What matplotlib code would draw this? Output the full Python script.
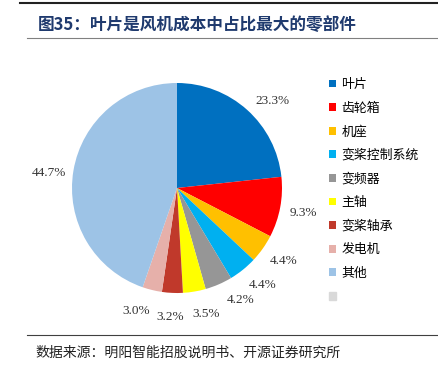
import matplotlib
matplotlib.use("Agg")
import numpy as np
import matplotlib.pyplot as plt
from matplotlib.patches import Patch
from matplotlib.lines import Line2D

plt.rcParams['font.family'] = ['Noto Sans CJK SC', 'DejaVu Sans']

parts = ["叶片", "齿轮箱", "机座", "变桨控制系统", "变频器", "主轴", "变桨轴承", "发电机", "其他"]
shares = [23.3, 9.3, 4.4, 4.4, 4.2, 3.5, 3.2, 3.0, 44.7]
colors = ["#0070C0", "#FF0000", "#FFC000", "#00B0F0", "#969696", "#FFFF00",
          "#C0392B", "#E6B0AA", "#9DC3E6"]
extra_color = "#D9D9D9"
# small angle nudges (deg) so labels sit like the original's best-fit placement
nudge = [-6, -0.5, 1, 2.7, 6.3, 3.4, -0.3, -4.6, 2.8]

fig = plt.figure(figsize=(4.39, 3.72), dpi=100)

# header / footer rules
fig.add_artist(Line2D([20/439, 1], [1 - 3/372, 1 - 3/372], color="#222222", lw=1.5))
fig.add_artist(Line2D([27/439, 1], [1 - 38/372, 1 - 38/372], color="#808080", lw=0.8))
fig.add_artist(Line2D([27/439, 1], [1 - 335/372, 1 - 335/372], color="#404040", lw=0.8))

fig.text(38/439, 1 - 25/372, "图35：叶片是风机成本中占比最大的零部件",
         fontsize=12, fontweight="bold", color="#1F3A6E", va="center", ha="left")
fig.text(35/439, 1 - 353/372, "数据来源：明阳智能招股说明书、开源证券研究所",
         fontsize=10, color="#222222", va="center", ha="left")

ax = fig.add_axes([72/439, 1 - 293/372, 210/439, 210/372])
wedges, texts = ax.pie(shares, colors=colors, startangle=90, counterclock=False,
                       labels=[f"{v:.1f}%" for v in shares], labeldistance=1.23,
                       textprops=dict(family="Liberation Serif", fontsize=9.5, color="#333333"))
for w, t, dn in zip(wedges, texts, nudge):
    a = np.deg2rad((w.theta1 + w.theta2) / 2 + dn)
    t.set_position((1.23 * np.cos(a), 1.23 * np.sin(a)))
    t.set_ha("center")
    t.set_va("center")
ax.set_xlim(-1, 1)
ax.set_ylim(-1, 1)

handles = list(wedges) + [Patch(color=extra_color)]
names = parts + [""]
leg = fig.legend(handles, names, loc="upper left", bbox_to_anchor=(324/439, 1 - 73/372),
                 frameon=False, fontsize=9.3, handlelength=0.55, handleheight=0.55,
                 handletextpad=0.4, labelspacing=0.82, borderaxespad=0)

fig.savefig("out.png", dpi=100)
